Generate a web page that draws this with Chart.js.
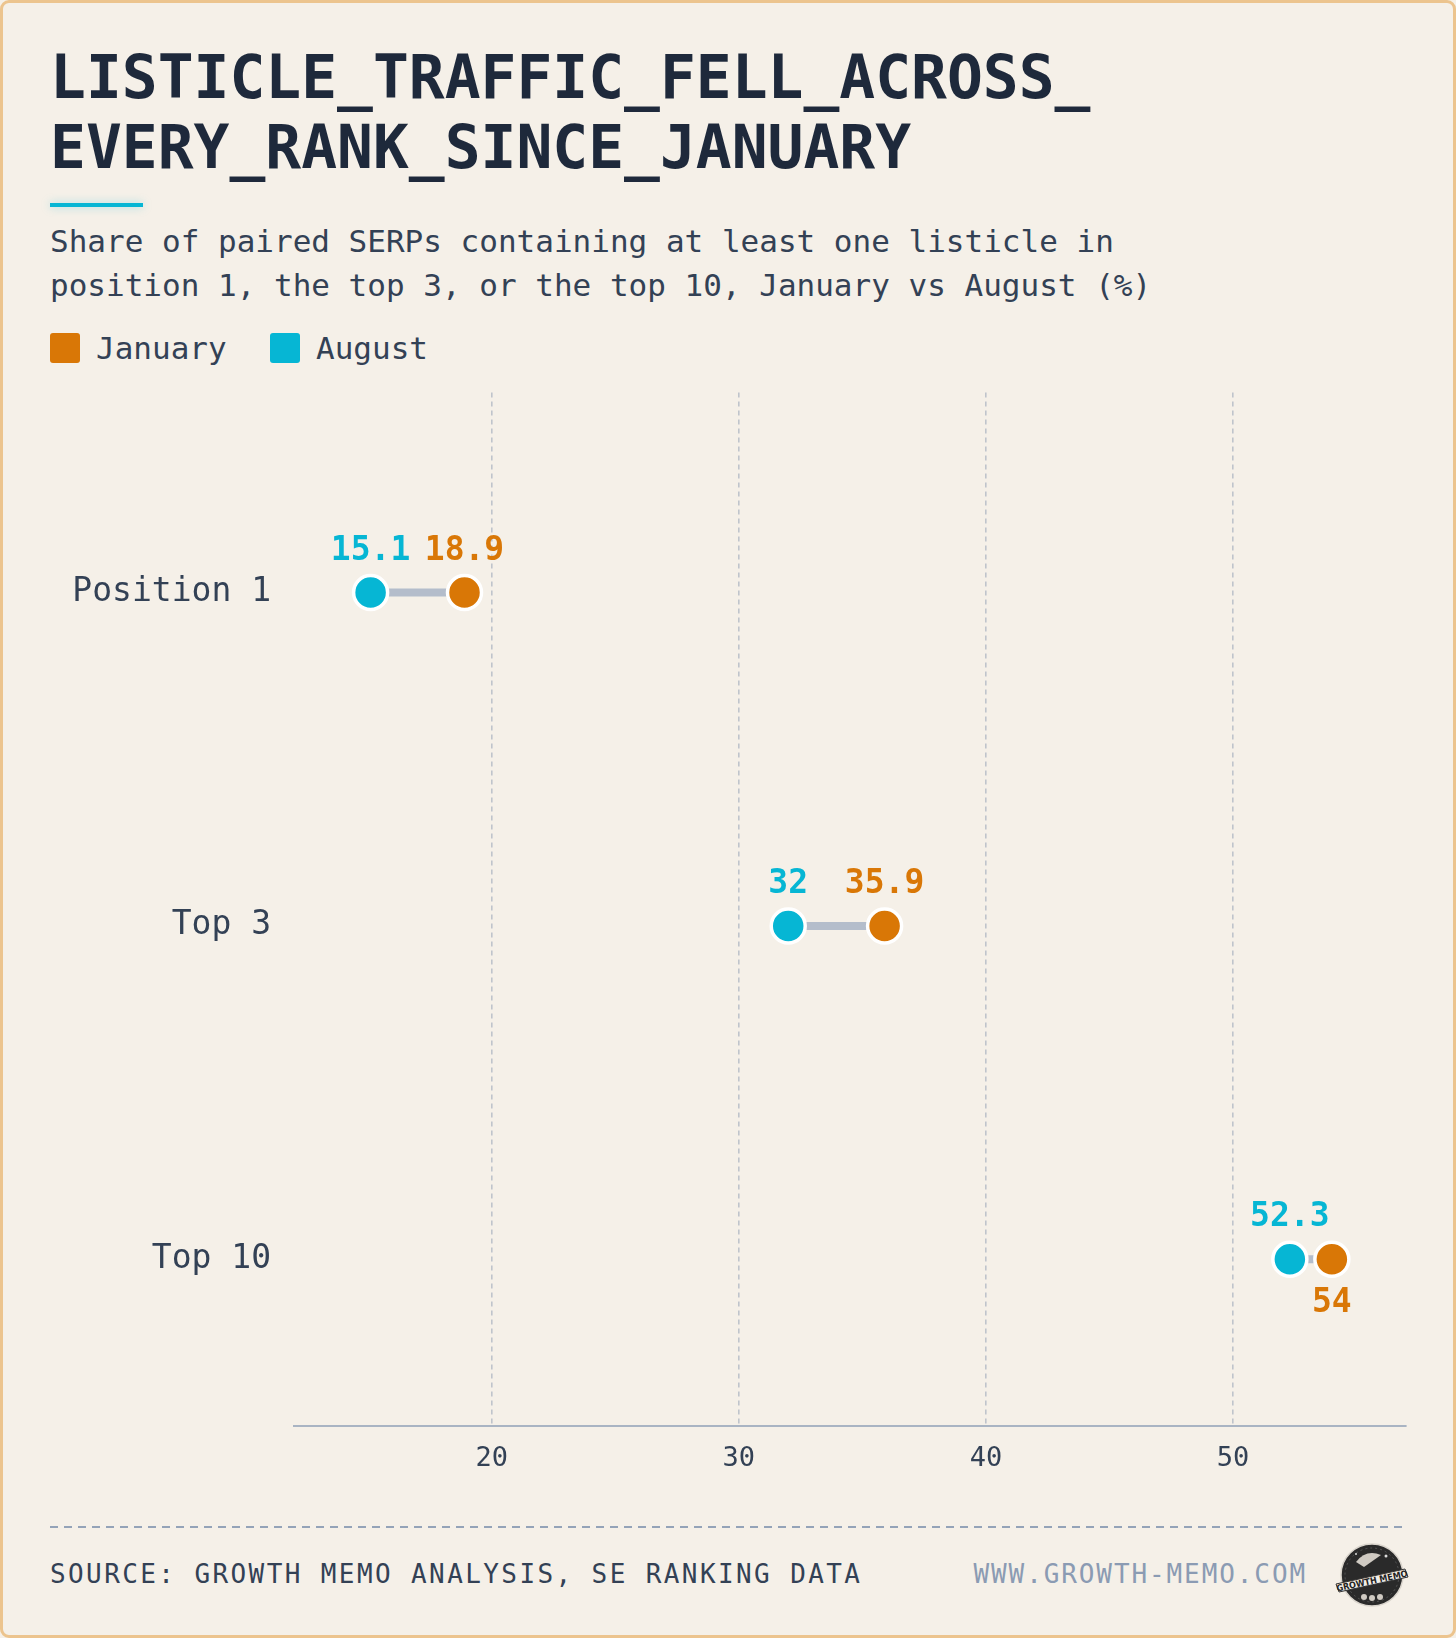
<!DOCTYPE html>
<html>
<head>
<meta charset="utf-8">
<script src="https://cdn.jsdelivr.net/npm/chart.js@4.4.1/dist/chart.umd.min.js"></script>
<style>
html, body { margin: 0; padding: 0; background: #f5f0e8; }
body { width: 1456px; height: 1638px; position: relative; overflow: hidden; font-family: "DejaVu Sans Mono", monospace; }
#card { position: absolute; left: 0; top: 0; width: 1456px; height: 1638px; box-sizing: border-box; border: 3px solid #ecc48e; border-radius: 9px; background: #f5f0e8; }
.abs { position: absolute; white-space: nowrap; }
#title { left: 50px; top: 43px; font-weight: bold; font-size: 59.6px; line-height: 70px; color: #1e293b; }
#accent { left: 50px; top: 203px; width: 93px; height: 4px; background: #06b6d4; box-shadow: 0 0 10px rgba(6,182,212,0.35); }
#subtitle { left: 50px; top: 219px; font-size: 31px; line-height: 44px; color: #334155; }
.sw { position: absolute; top: 333px; width: 30px; height: 30px; border-radius: 3px; }
.lg { top: 333px; font-size: 31px; line-height: 30px; color: #334155; }
#chartbox { position: absolute; left: 0; top: 372px; width: 1456px; height: 1128px; }
#rule { left: 50px; top: 1526px; width: 1356px; height: 2px; background: repeating-linear-gradient(to right, #94a3b8 0 8px, transparent 8px 14px); }
#source { left: 50px; top: 1559px; font-size: 26px; line-height: 30px; letter-spacing: 2.4px; color: #334155; }
#site { right: 149px; top: 1559px; font-size: 26px; line-height: 30px; letter-spacing: 1.9px; color: #8b9bb3; }
#logo { left: 1334px; top: 1540px; }
</style>
</head>
<body>
<div id="card"></div>
<div id="title" class="abs">LISTICLE_TRAFFIC_FELL_ACROSS_<br>EVERY_RANK_SINCE_JANUARY</div>
<div id="accent" class="abs"></div>
<div id="subtitle" class="abs">Share of paired SERPs containing at least one listicle in<br>position 1, the top 3, or the top 10, January vs August (%)</div>
<div class="sw" style="left:50px;background:#d97706"></div>
<div class="abs lg" style="left:96px">January</div>
<div class="sw" style="left:270px;background:#06b6d4"></div>
<div class="abs lg" style="left:316px">August</div>
<div id="chartbox"><canvas id="chart"></canvas></div>
<div id="rule" class="abs"></div>
<div id="source" class="abs">SOURCE: GROWTH MEMO ANALYSIS, SE RANKING DATA</div>
<div id="site" class="abs">WWW.GROWTH-MEMO.COM</div>
<svg id="logo" class="abs" width="76" height="70" viewBox="0 0 76 70">
  <circle cx="38" cy="35" r="31" fill="#2a2a2a" stroke="#d9d4cc" stroke-width="1.5"/>
  <circle cx="38" cy="35" r="27" fill="none" stroke="#555" stroke-width="1" stroke-dasharray="2 3"/>
  <path d="M22 22 Q32 9 47 15 Q40 20 30 27 Z" fill="#cfcac2"/>
  <circle cx="52" cy="16" r="1.5" fill="#ddd"/><circle cx="22" cy="14" r="1" fill="#ddd"/>
  <path d="M2 44 L71 29 L74 37 L5 52 Z" fill="#f2eee6" stroke="#333" stroke-width="1"/>
  <text x="38" y="44" transform="rotate(-12 38 41)" text-anchor="middle" font-family="DejaVu Sans Condensed, DejaVu Sans" font-weight="bold" font-size="9" fill="#222">GROWTH MEMO</text>
  <circle cx="30" cy="57" r="3" fill="#cfcac2"/><circle cx="38" cy="58" r="3" fill="#cfcac2"/><circle cx="46" cy="57" r="3" fill="#cfcac2"/>
</svg>
<script>
// data
const categories = ['Position 1', 'Top 3', 'Top 10'];
const january = [18.9, 35.9, 54];
const august = [15.1, 32, 52.3];
const xTicks = [20, 30, 40, 50];

const JAN = '#d97706';
const AUG = '#06b6d4';

let points = (vals) => vals.map((v, i) => ({ x: v, y: i }));

let connectors = categories.map((c, i) => ({
    label: c,
    data: [{ x: august[i], y: i }, { x: january[i], y: i }],
    showLine: true,
    borderColor: '#b4bdcb',
    borderWidth: 8,
    pointRadius: 0,
    order: 2
}));

// value labels above the dots (January goes below when the two are close)
let valueLabels = {
    id: 'valueLabels',
    afterDatasetsDraw(chart) {
        let ctx = chart.ctx;
        ctx.save();
        ctx.font = 'bold 33px "DejaVu Sans Mono"';
        ctx.textAlign = 'center';
        ctx.textBaseline = 'alphabetic';
        [[0, january, JAN], [1, august, AUG]].forEach(([idx, vals, color]) => {
            let meta = chart.getDatasetMeta(idx);
            meta.data.forEach((pt, i) => {
                let below = idx === 0 && (january[i] - august[i]) < 3;
                ctx.fillStyle = color;
                ctx.fillText(String(vals[i]), pt.x, below ? pt.y + 53 : pt.y - 33);
            });
        });
        ctx.restore();
    }
};

let ctx = document.querySelector('#chart').getContext('2d');

let chart = new Chart(ctx, {
    type: 'scatter',
    data: {
        datasets: [
            {
                label: 'January',
                data: points(january),
                backgroundColor: JAN,
                borderColor: '#ffffff',
                borderWidth: 3.5,
                pointRadius: 17,
                pointHoverRadius: 17,
                order: 0
            },
            {
                label: 'August',
                data: points(august),
                backgroundColor: AUG,
                borderColor: '#ffffff',
                borderWidth: 3.5,
                pointRadius: 17,
                pointHoverRadius: 17,
                order: 0
            },
            ...connectors
        ]
    },
    options: {
        responsive: true,
        maintainAspectRatio: false,
        animation: false,
        layout: { padding: { top: 4, right: 50, bottom: 0, left: 0 } },
        plugins: {
            legend: { display: false },
            tooltip: { enabled: false }
        },
        scales: {
            x: {
                type: 'linear',
                min: 12,
                max: 57,
                afterBuildTicks: (s) => { s.ticks = xTicks.map(v => ({ value: v })) },
                afterFit: (s) => { s.height = 74; s.paddingLeft = 0; s.paddingRight = 0 },
                grid: {
                    color: '#bfc4cb',
                    lineWidth: 1.6,
                    drawTicks: false
                },
                border: { display: true, color: '#a9b4c3', width: 2, dash: [5, 4] },
                ticks: {
                    padding: 17,
                    color: '#334155',
                    font: { family: 'DejaVu Sans Mono', size: 27 }
                }
            },
            y: {
                type: 'linear',
                reverse: true,
                min: -0.6,
                max: 2.5,
                afterBuildTicks: (s) => { s.ticks = categories.map((c, i) => ({ value: i })) },
                afterFit: (s) => { s.width = 294; s.paddingTop = 0; s.paddingBottom = 0 },
                grid: { display: false, drawTicks: false },
                border: { display: false },
                ticks: {
                    padding: 23,
                    color: '#334155',
                    font: { family: 'DejaVu Sans Mono', size: 33 },
                    callback: (v) => categories[v]
                }
            }
        }
    },
    plugins: [valueLabels]
});
</script>
</body>
</html>
